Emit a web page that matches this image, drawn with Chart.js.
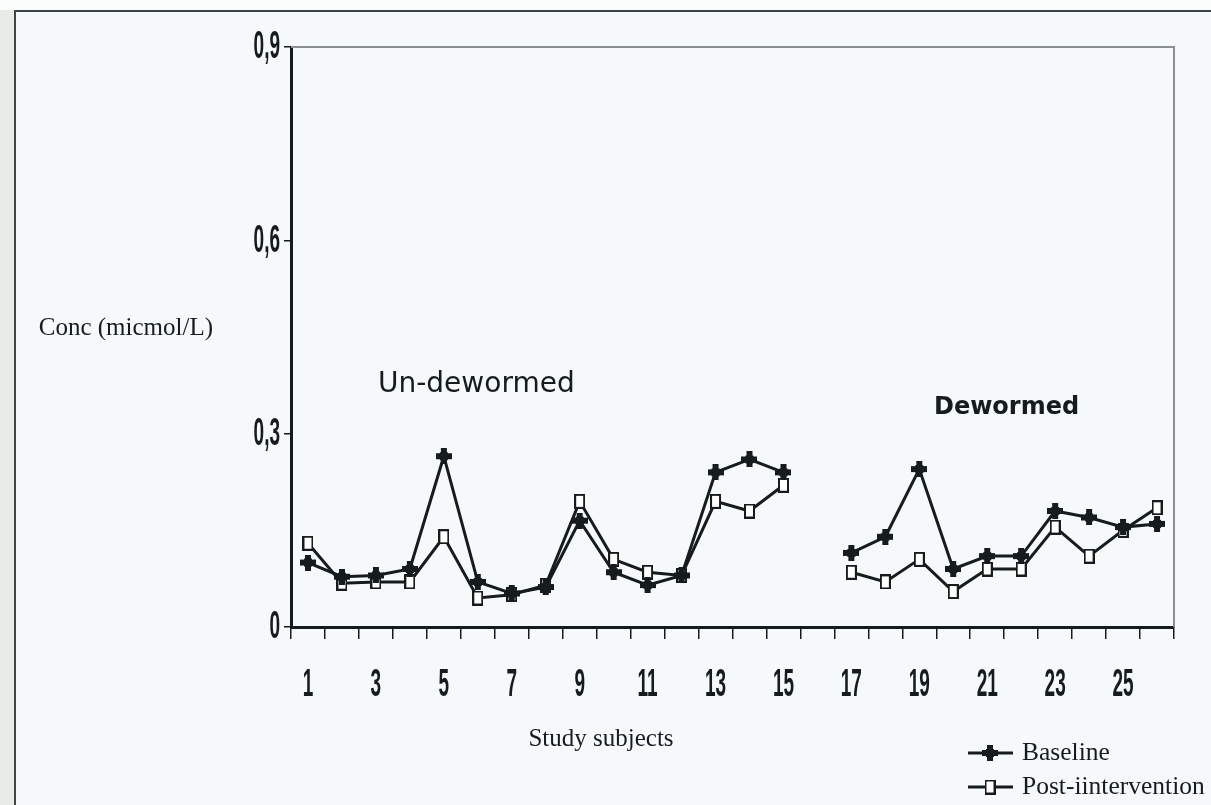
<!DOCTYPE html>
<html>
<head>
<meta charset="utf-8">
<script src="https://cdn.jsdelivr.net/npm/chart.js@4.4.1/dist/chart.umd.min.js"></script>
<style>
  html, body { margin: 0; padding: 0; background: #f6f9f9; }
  #wrap { width: 1211px; height: 805px; position: relative; }
</style>
</head>
<body>
<div id="wrap"><canvas id="chart" width="1211" height="805"></canvas></div>
<script>
// Study subjects 1..26 (subject 16 has no measurement)
const subjects = ['1','2','3','4','5','6','7','8','9','10','11','12','13',
                  '14','15','16','17','18','19','20','21','22','23','24','25','26'];
const shownSubjectLabels = ['1','3','5','7','9','11','13','15','17','19','21','23','25'];

// Concentration, micmol/L
const baseline = [0.100, 0.078, 0.080, 0.090, 0.265, 0.070, 0.052, 0.062, 0.165, 0.085,
                  0.065, 0.080, 0.240, 0.260, 0.240, null, 0.115, 0.140, 0.245, 0.090,
                  0.110, 0.110, 0.180, 0.170, 0.155, 0.160];
const postIntervention = [0.130, 0.068, 0.070, 0.070, 0.140, 0.045, 0.050, 0.065, 0.195, 0.105,
                  0.085, 0.080, 0.195, 0.180, 0.220, null, 0.085, 0.070, 0.105, 0.055,
                  0.090, 0.090, 0.155, 0.110, 0.150, 0.185];

const yTickValues = [0, 0.3, 0.6, 0.9];
const yTickLabels = ['0', '0,3', '0,6', '0,9'];

const INK = '#161b1b';

// marker images
function plusMarker(size, arm) {
  const c = document.createElement('canvas');
  c.width = size; c.height = size;
  const g = c.getContext('2d');
  g.fillStyle = INK;
  const o = (size - arm) / 2;
  g.fillRect(o, 0, arm, size);
  g.fillRect(0, o, size, arm);
  g.fillRect(o - 1, o - 1, arm + 2, arm + 2);
  return c;
}
function openRectMarker(w, h) {
  const c = document.createElement('canvas');
  c.width = w; c.height = h;
  const g = c.getContext('2d');
  g.fillStyle = '#ffffff';
  g.fillRect(1, 1, w - 2, h - 2);
  g.strokeStyle = INK;
  g.lineWidth = 2;
  g.strokeRect(1, 1, w - 2, h - 2);
  return c;
}
const baseMark = plusMarker(16, 6);
const postMark = openRectMarker(11, 15);

// condensed text helper (tall narrow digits)
function narrowText(ctx, text, x, y, align, sx) {
  ctx.save();
  ctx.translate(x, y);
  ctx.scale(sx, 1);
  ctx.textAlign = align;
  ctx.textBaseline = 'middle';
  ctx.fillText(text, 0, 0);
  ctx.restore();
}

const decorations = {
  id: 'decorations',
  beforeDraw(chart) {
    const ctx = chart.ctx;
    ctx.save();
    ctx.fillStyle = '#f6f9f9';
    ctx.fillRect(0, 0, chart.width, chart.height);
    ctx.fillStyle = '#e9ebe6';
    ctx.fillRect(0, 0, 14, chart.height);
    ctx.fillStyle = '#fbfcfc';
    ctx.fillRect(0, 0, chart.width, 10);
    // outer frame
    ctx.strokeStyle = '#3c4646';
    ctx.lineWidth = 2;
    ctx.beginPath();
    ctx.moveTo(15, chart.height);
    ctx.lineTo(15, 11);
    ctx.lineTo(chart.width, 11);
    ctx.stroke();
    ctx.restore();
  },
  afterDraw(chart) {
    const ctx = chart.ctx;
    const area = chart.chartArea;
    const xs = chart.scales.x, ys = chart.scales.y;
    ctx.save();

    // plot area top and right edges
    ctx.strokeStyle = '#8a9090';
    ctx.lineWidth = 2;
    ctx.beginPath();
    ctx.moveTo(area.left, area.top);
    ctx.lineTo(area.right, area.top);
    ctx.lineTo(area.right, area.bottom);
    ctx.stroke();

    // tick labels
    ctx.fillStyle = INK;
    ctx.font = 'bold 38px "Liberation Sans", Arial, sans-serif';
    xs.ticks.forEach((t, i) => {
      const lab = subjects[i];
      if (shownSubjectLabels.includes(lab)) {
        narrowText(ctx, lab, xs.getPixelForTick(i), 686, 'center', 0.5);
      }
    });
    ys.ticks.forEach((t, i) => {
      const k = yTickValues.indexOf(t.value);
      if (k >= 0) narrowText(ctx, yTickLabels[k], 280, ys.getPixelForTick(i) + 1, 'right', 0.5);
    });

    // axis titles
    ctx.font = '25px "Liberation Serif", "Times New Roman", serif';
    ctx.textBaseline = 'middle';
    ctx.textAlign = 'right';
    ctx.fillText('Conc (micmol/L)', 213, 328);
    ctx.textAlign = 'center';
    ctx.fillText('Study subjects', 601, 739);

    // group annotations
    ctx.textAlign = 'left';
    ctx.font = '28px "DejaVu Sans", Verdana, sans-serif';
    ctx.fillText('Un-dewormed', 378, 385);
    ctx.font = 'bold 24px "DejaVu Sans", Verdana, sans-serif';
    ctx.fillText('Dewormed', 934, 408);

    // legend
    const items = [
      { ds: chart.data.datasets[0], y: 753 },
      { ds: chart.data.datasets[1], y: 787 }
    ];
    ctx.font = '25.5px "Liberation Serif", "Times New Roman", serif';
    items.forEach(it => {
      ctx.strokeStyle = INK;
      ctx.lineWidth = 3;
      ctx.beginPath();
      ctx.moveTo(968, it.y);
      ctx.lineTo(1013, it.y);
      ctx.stroke();
      const m = it.ds.pointStyle;
      ctx.drawImage(m, 990 - m.width / 2, it.y - m.height / 2);
      ctx.fillStyle = INK;
      ctx.textAlign = 'left';
      ctx.fillText(it.ds.label, 1022, it.y);
    });
    ctx.restore();
  }
};

new Chart(document.getElementById('chart'), {
  type: 'line',
  data: {
    labels: subjects,
    datasets: [
      {
        label: 'Baseline',
        data: baseline,
        borderColor: INK,
        borderWidth: 3,
        pointStyle: baseMark,
        spanGaps: false,
        tension: 0
      },
      {
        label: 'Post-iintervention',
        data: postIntervention,
        borderColor: INK,
        borderWidth: 3,
        pointStyle: postMark,
        spanGaps: false,
        tension: 0
      }
    ]
  },
  options: {
    responsive: false,
    animation: false,
    devicePixelRatio: 1,
    layout: { padding: { top: 47, right: 37, left: 0, bottom: 0 } },
    plugins: { legend: { display: false }, tooltip: { enabled: false } },
    scales: {
      x: {
        type: 'category',
        offset: true,
        grid: {
          display: true, drawOnChartArea: false, drawTicks: true,
          tickLength: 12, offset: true, color: INK, lineWidth: 1.5
        },
        border: { display: true, color: INK, width: 3 },
        ticks: { display: false },
        afterFit(s) { s.height = 178; }
      },
      y: {
        min: 0, max: 0.9,
        ticks: { display: false, stepSize: 0.3 },
        afterBuildTicks(s) { s.ticks = yTickValues.map(v => ({ value: v })); },
        grid: {
          display: true, drawOnChartArea: false, drawTicks: true,
          tickLength: 7, color: INK, lineWidth: 1.5
        },
        border: { display: true, color: INK, width: 3 },
        afterFit(s) { s.width = 291; }
      }
    }
  },
  plugins: [decorations]
});
</script>
</body>
</html>
